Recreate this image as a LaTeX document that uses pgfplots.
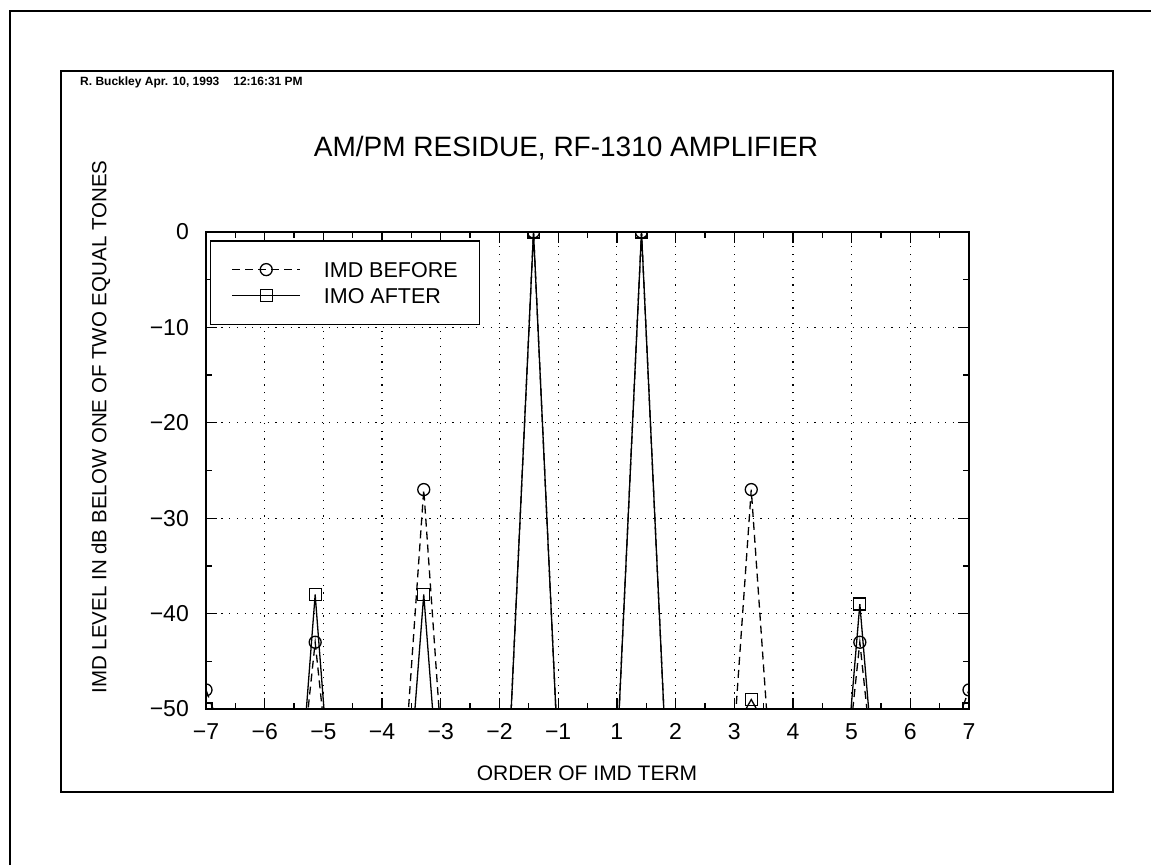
\documentclass[border=0pt]{standalone}
\usepackage{fontspec}
\setmainfont{Liberation Sans}
\usepackage{pgfplots}
\pgfplotsset{compat=1.18}
\begin{document}
\begin{tikzpicture}
\useasboundingbox (0,0) rectangle (1151pt,-865pt);
\fill[white] (0,0) rectangle (1151pt,-865pt);
% outer and inner frames
\draw[line width=2.5pt] (10pt,-865pt) -- (10pt,-11pt) -- (1151pt,-11pt);
\draw[line width=1.8pt] (61pt,-71pt) rectangle (1113pt,-792pt);
\node[anchor=west, font=\fontsize{12}{14}\selectfont\bfseries, inner sep=0pt] at (80pt,-82pt) {R. Buckley Apr. 10, 1993\hspace{14pt}12:16:31 PM};
\node[font=\fontsize{28}{32}\selectfont, inner sep=0pt] at (566pt,-148pt) {AM/PM RESIDUE, RF-1310 AMPLIFIER};
\node[font=\fontsize{21}{24}\selectfont, inner sep=0pt] at (587pt,-773pt) {ORDER OF IMD TERM};
\node[font=\fontsize{20.5}{24}\selectfont, inner sep=0pt, rotate=90] at (101pt,-427pt) {IMD LEVEL IN dB BELOW ONE OF TWO EQUAL TONES};
\begin{axis}[
  scale only axis, width=763pt, height=477pt,
  at={(206pt,-709pt)}, anchor=south west,
  xmin=0, xmax=13, ymin=-50, ymax=0,
  xtick={0,1,2,3,4,5,6,7,8,9,10,11,12,13},
  xticklabels={−7,−6,−5,−4,−3,−2,−1,1,2,3,4,5,6,7},
  minor x tick num=1,
  ytick={-50,-40,-30,-20,-10,0},
  yticklabels={−50,−40,−30,−20,−10,0},
  minor y tick num=1,
  grid=major,
  major grid style={black, line width=1.2pt, dash pattern=on 1.2pt off 6.5pt},
  axis line style={black, line width=2.5pt},
  major tick length=11pt, minor tick length=6pt,
  tick style={black, line width=1.3pt},
  yticklabel style={font=\fontsize{23}{26}\selectfont, inner sep=0pt, anchor=east, xshift=-17pt},
  xticklabel style={font=\fontsize{23}{26}\selectfont, inner sep=0pt, anchor=north, yshift=-14pt},
  legend image code/.code={\path (0pt,0pt); \draw[mark repeat=2,mark phase=2] plot coordinates {(10pt,0pt) (44pt,0pt) (78pt,0pt)}; \path (90pt,0pt);},
  legend style={at={(0.005,0.983)}, anchor=north west, draw=black, line width=1.5pt, fill=white,
    inner xsep=11pt, inner ysep=18pt, row sep=4.5pt,
    font=\fontsize{21.5}{24}\selectfont,
    nodes={inner xsep=11pt, inner ysep=3pt, text height=15.5pt, text depth=0pt}},
  legend cell align=left,
  clip marker paths=true,
]
% IMD BEFORE (dashed)
\addplot[black, line width=1.3pt, dash pattern=on 8pt off 5pt, forget plot] coordinates {
(0,-48) (0.12,-50)
(1.74,-50) (1.86,-43) (1.98,-50)
(3.45,-50) (3.71,-27) (3.97,-50)
(5.20,-50) (5.58,0) (5.96,-50)
(7.04,-50) (7.42,0) (7.80,-50)
(9.03,-50) (9.29,-27) (9.55,-50)
(11.02,-50) (11.14,-43) (11.26,-50)
(12.88,-50) (13,-48)};
\addplot[black, only marks, mark=o, mark size=6pt, line width=1.3pt, forget plot] coordinates {
(0,-48) (1.86,-43) (3.71,-27) (5.58,0) (7.42,0) (9.29,-27) (11.14,-43) (13,-48)};
% IMD AFTER (solid)
\addplot[black, line width=1.3pt, forget plot] coordinates {
(0,-50)
(1.71,-50) (1.86,-38) (2.01,-50)
(3.56,-50) (3.71,-38) (3.86,-50)
(5.20,-50) (5.58,0) (5.96,-50)
(7.04,-50) (7.42,0) (7.80,-50)
(9.20,-50) (9.29,-49) (9.38,-50)
(10.99,-50) (11.14,-39) (11.29,-50)
(13,-50)};
\addplot[black, only marks, mark=square, mark size=6pt, line width=1.3pt, forget plot] coordinates {
(0,-50) (1.86,-38) (3.71,-38) (5.58,0) (7.42,0) (9.29,-49) (11.14,-39) (13,-50)};
\addlegendimage{black, line width=1.3pt, dash pattern=on 8pt off 5pt, mark=o, mark size=6pt, mark options={solid}}
\addlegendentry{IMD BEFORE\hspace{7pt}}
\addlegendimage{black, line width=1.3pt, mark=square, mark size=6pt, mark options={solid}}
\addlegendentry{IMO AFTER}
\end{axis}
\end{tikzpicture}
\end{document}
